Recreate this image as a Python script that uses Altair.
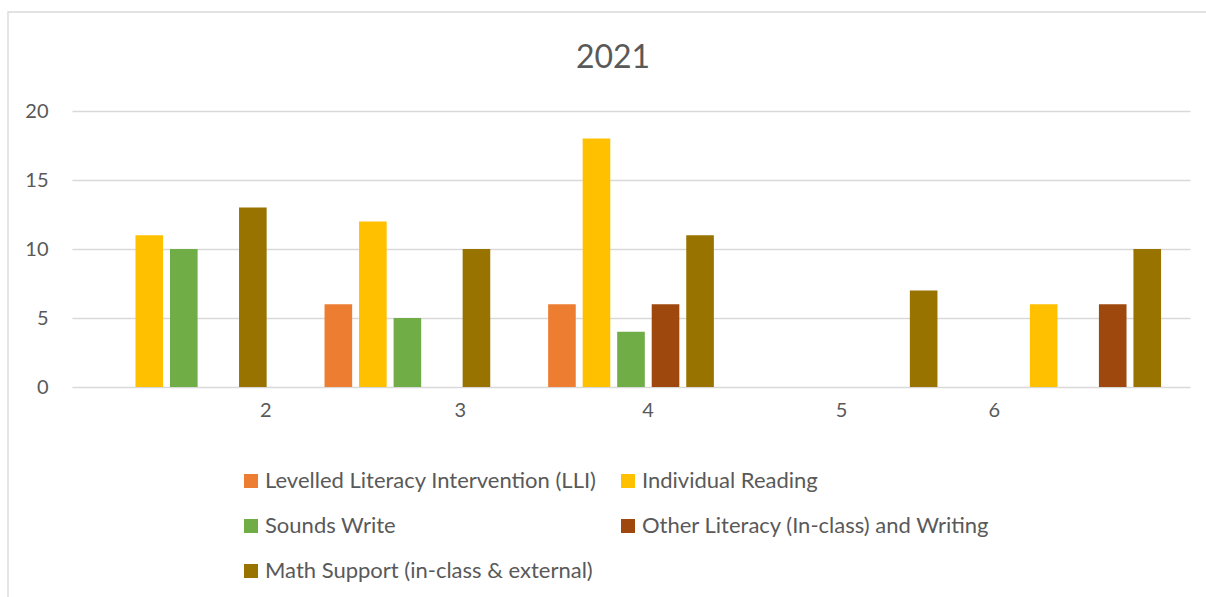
import altair as alt
import pandas as pd

grades = ["2", "3", "4", "5", "6"]
series = [
    "Levelled Literacy Intervention (LLI)",
    "Individual Reading",
    "Sounds Write",
    "Other Literacy (In-class) and Writing",
    "Math Support (in-class & external)",
]
lli = [None, 6, 6, None, None]
individual_reading = [11, 12, 18, None, 6]
sounds_write = [10, 5, 4, None, None]
other_literacy = [None, None, 6, None, 6]
math_support = [13, 10, 11, 7, 10]
colors = ["#ED7D31", "#FFC000", "#70AD47", "#9E480E", "#997300"]

values_by_series = [lli, individual_reading, sounds_write, other_literacy, math_support]
rows = []
for s, vals in zip(series, values_by_series):
    for g, v in zip(grades, vals):
        rows.append({"grade": g, "series": s, "value": v})
df = pd.DataFrame(rows)

FONT = "Lato"
TXT = "#595959"

# label shifts reproduce the reference's off-centre category labels
shifts = {"2": 82, "3": 53, "4": 17, "5": -13, "6": -84}
label_offset = {
    "condition": [{"test": f"datum.value == '{k}'", "value": v} for k, v in shifts.items()],
    "value": 0,
}

bars = alt.Chart(df).mark_bar().encode(
    x=alt.X(
        "grade:N",
        sort=grades,
        scale=alt.Scale(domain=grades, paddingInner=0.228, paddingOuter=0.114),
        axis=alt.Axis(
            title=None, ticks=False, domain=False, labelAngle=0,
            labelFont=FONT, labelFontSize=20, labelColor=TXT,
            labelPadding=13, labelOffset=label_offset,
        ),
    ),
    xOffset=alt.XOffset(
        "series:N", sort=series,
        scale=alt.Scale(domain=series, paddingInner=0.2, paddingOuter=0.1),
    ),
    y=alt.Y(
        "value:Q",
        scale=alt.Scale(domain=[0, 20], nice=False),
        axis=alt.Axis(
            title=None, ticks=False, domain=False, values=[0, 5, 10, 15, 20],
            labelFont=FONT, labelFontSize=20, labelColor=TXT, labelPadding=24,
            gridColor="#d9d9d9", gridWidth=1.3,
        ),
    ),
    color=alt.Color(
        "series:N",
        scale=alt.Scale(domain=series, range=colors),
        legend=alt.Legend(
            title=None, orient="none", legendX=168, legendY=359, columns=2,
            direction="horizontal",
            symbolType="square", symbolSize=196, symbolStrokeWidth=0,
            labelFont=FONT, labelFontSize=22, labelColor=TXT, labelOffset=3,
            rowPadding=23, columnPadding=20, padding=0, labelLimit=600,
        ),
    ),
)

border = alt.Chart(pd.DataFrame({"a": [0]})).mark_rect(
    filled=False, stroke="#d9d9d9", strokeWidth=1.3
).encode(
    x=alt.value(-64), x2=alt.value(1150), y=alt.value(-99), y2=alt.value(500)
)

chart = alt.layer(border, bars).properties(
    width=1118,
    height=276,
    background="white",
    title=alt.TitleParams(
        "2021", font=FONT, fontSize=32, fontWeight="normal", color=TXT,
        anchor="middle", dx=-18, baseline="alphabetic", offset=-89,
    ),
    autosize=alt.AutoSizeParams(type="none"),
    padding={"left": 72, "top": 111, "right": 16, "bottom": 210},
).configure_view(strokeWidth=0, stroke="transparent")

chart.save("out.html", embed_options={"renderer": "svg", "actions": False})
